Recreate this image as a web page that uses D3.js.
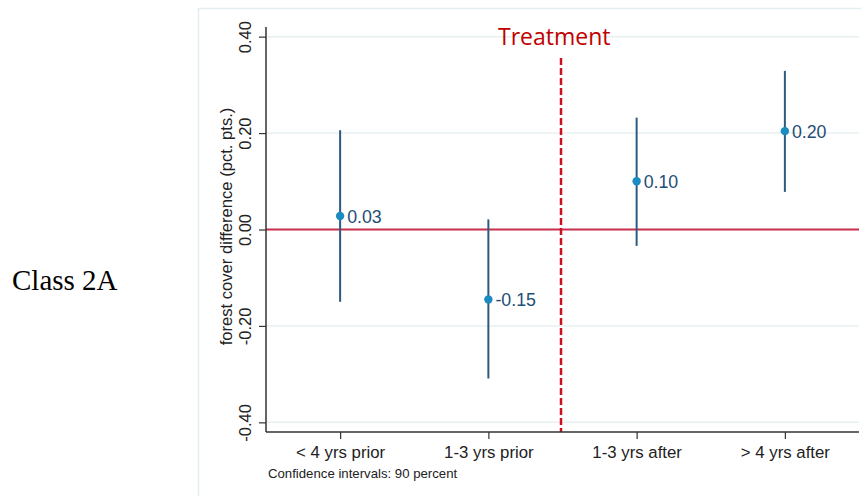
<!DOCTYPE html>
<html>
<head>
<meta charset="utf-8">
<script src="https://cdn.jsdelivr.net/npm/d3@7"></script>
<style>
  body { margin: 0; background: #fff; }
  svg { display: block; }
</style>
</head>
<body>
<svg id="chart" width="861" height="496"></svg>
<script>
// Données
const categories = ["< 4 yrs prior", "1-3 yrs prior", "1-3 yrs after", "> 4 yrs after"];
const estimates = [0.028, -0.145, 0.100, 0.204];
const ciLow = [-0.150, -0.309, -0.034, 0.078];
const ciHigh = [0.206, 0.021, 0.232, 0.329];
const pointLabels = ["0.03", "-0.15", "0.10", "0.20"];
const yTicks = [0.4, 0.2, 0, -0.2, -0.4];
const yTickLabels = ["0.40", "0.20", "0.00", "-0.20", "-0.40"];

const svg = d3.select("#chart");

// Cadre extérieur (clair)
svg.append("rect")
  .attr("x", 198.5).attr("y", 8.5)
  .attr("width", 700).attr("height", 520)
  .attr("fill", "none")
  .attr("stroke", "#e4edf0")
  .attr("stroke-width", 1.5);

const plotLeft = 266, plotRight = 859, plotTop = 27, plotBottom = 432;

const x = d3.scalePoint()
  .domain(categories)
  .range([plotLeft, plotRight])
  .padding(0.5);

const y = d3.scaleLinear()
  .domain([-0.42, 0.42])
  .range([plotBottom, plotTop]);

const g = svg.append("g");

// Grille horizontale
g.selectAll(".grid")
  .data(yTicks)
  .enter()
  .append("line")
  .attr("x1", plotLeft).attr("x2", plotRight)
  .attr("y1", d => y(d)).attr("y2", d => y(d))
  .attr("stroke", "#e8f0f2")
  .attr("stroke-width", 1.5);

// Ligne zéro
g.append("line")
  .attr("x1", plotLeft).attr("x2", plotRight)
  .attr("y1", y(0)).attr("y2", y(0))
  .attr("stroke", "#c9304f")
  .attr("stroke-width", 2);

// Ligne de traitement (entre les 2e et 3e catégories)
const xTreat = (x(categories[1]) + x(categories[2])) / 2 - 1.5;
g.append("line")
  .attr("x1", xTreat).attr("x2", xTreat)
  .attr("y1", 58).attr("y2", plotBottom)
  .attr("stroke", "#cc1020")
  .attr("stroke-width", 2.5)
  .attr("stroke-dasharray", "7,3");

svg.append("text")
  .attr("x", 498).attr("y", 45)
  .attr("font-family", "Open Sans")
  .attr("font-size", 23)
  .attr("fill", "#c00000")
  .text("Treatment");

// Axe Y
const yAxis = g.append("g")
  .attr("transform", `translate(${plotLeft},0)`)
  .call(d3.axisLeft(y).tickValues(yTicks).tickSize(7)
    .tickFormat((d, i) => yTickLabels[i]));
yAxis.select(".domain").attr("stroke", "#333").attr("stroke-width", 1.5)
  .attr("d", `M0,${plotTop}V${plotBottom}`);
yAxis.selectAll(".tick line").attr("stroke", "#333").attr("stroke-width", 1.2);
yAxis.selectAll(".tick text")
  .attr("font-family", "Liberation Sans, Arial")
  .attr("font-size", 16.5)
  .attr("fill", "#222")
  .attr("text-anchor", "middle")
  .attr("x", null).attr("dy", null)
  .attr("transform", "translate(-15,0) rotate(-90)")
  .attr("y", 0);

// Axe X
const xAxis = g.append("g")
  .attr("transform", `translate(0,${plotBottom})`)
  .call(d3.axisBottom(x).tickSize(7));
xAxis.select(".domain").attr("stroke", "#333").attr("stroke-width", 1.5)
  .attr("d", `M${plotLeft},0H${plotRight}`);
xAxis.selectAll(".tick line").attr("stroke", "#333").attr("stroke-width", 1.2);
xAxis.selectAll(".tick text")
  .attr("font-family", "Liberation Sans, Arial")
  .attr("font-size", 16.8)
  .attr("fill", "#222")
  .attr("dy", null)
  .attr("y", 26);

// Titre de l'axe Y
svg.append("text")
  .attr("transform", `translate(232,${(plotTop + plotBottom) / 2 - 3}) rotate(-90)`)
  .attr("text-anchor", "middle")
  .attr("font-family", "Liberation Sans, Arial")
  .attr("font-size", 16.6)
  .attr("fill", "#222")
  .text("forest cover difference (pct. pts.)");

// Intervalles de confiance
g.selectAll(".ci")
  .data(categories)
  .enter()
  .append("line")
  .attr("x1", d => x(d)).attr("x2", d => x(d))
  .attr("y1", (d, i) => y(ciLow[i]))
  .attr("y2", (d, i) => y(ciHigh[i]))
  .attr("stroke", "#2c5a80")
  .attr("stroke-width", 2);

// Points
g.selectAll(".pt")
  .data(categories)
  .enter()
  .append("circle")
  .attr("cx", d => x(d))
  .attr("cy", (d, i) => y(estimates[i]))
  .attr("r", 4.2)
  .attr("fill", "#1a8cc0");

// Étiquettes des points
g.selectAll(".lbl")
  .data(categories)
  .enter()
  .append("text")
  .attr("x", d => x(d) + 7)
  .attr("y", (d, i) => y(estimates[i]) + 6.5)
  .attr("font-family", "Liberation Sans, Arial")
  .attr("font-size", 17.8)
  .attr("fill", "#1f4e76")
  .text((d, i) => pointLabels[i]);

// Note
svg.append("text")
  .attr("x", 268).attr("y", 478)
  .attr("font-family", "Liberation Sans, Arial")
  .attr("font-size", 13.2)
  .attr("fill", "#222")
  .text("Confidence intervals: 90 percent");

// Libellé de la classe
svg.append("text")
  .attr("x", 12).attr("y", 290)
  .attr("font-family", "Liberation Serif, Times New Roman")
  .attr("font-size", 29)
  .attr("fill", "#000")
  .text("Class 2A");
</script>
</body>
</html>
